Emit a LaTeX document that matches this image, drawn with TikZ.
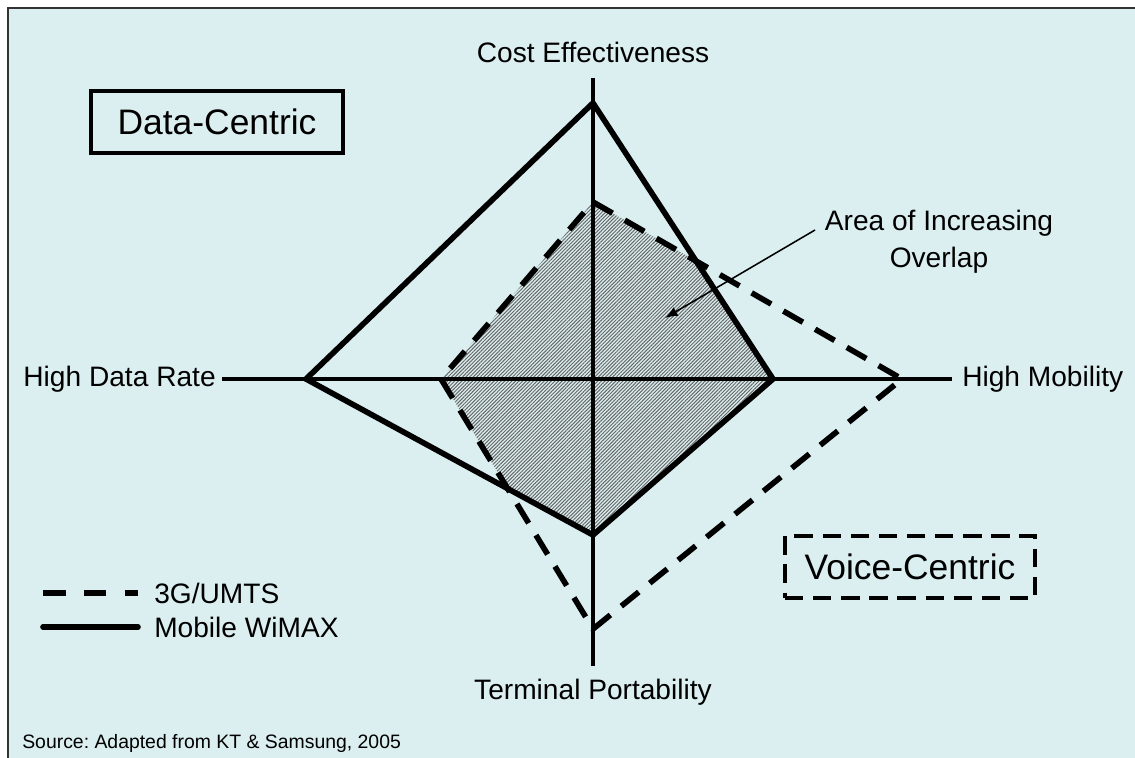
\documentclass[tikz,border=0pt]{standalone}
\usepackage{fontspec}
\setmainfont{Liberation Sans}
\frenchspacing
\usetikzlibrary{patterns.meta, arrows.meta}
\definecolor{panelbg}{RGB}{219,238,240}
\tikzset{>={Latex[length = 9pt, width = 7pt]}}
\tikzset{
  axislabel/.style = {font = \fontsize{20}{24}\selectfont, inner sep = 0pt},
  centric/.style = {font = \fontsize{25.2}{30}\selectfont, inner sep = 0pt, minimum height = 1.55cm},
  axisline/.style = {line width = 2.4pt},
  wimax/.style = {line width = 4pt},
  umts/.style = {line width = 4pt, dash pattern = on 16pt off 10pt},
}

\begin{document}
\begin{tikzpicture}[x = 0.025cm, y = -0.025cm]

\useasboundingbox (0, 0) rectangle (1135, 757);
\fill[panelbg] (8, 8) rectangle (1136, 758);
\draw[line width = 1.4pt, black!80] (8, 758) -- (8, 8) -- (1136, 8);

\coordinate (o) at (593, 379);
\coordinate (axtop) at (593, 78);
\coordinate (axbot) at (593, 666);
\coordinate (axleft) at (222, 379);
\coordinate (axright) at (952, 379);

\coordinate (wt) at (593, 103);
\coordinate (wr) at (773, 379);
\coordinate (wb) at (593, 535);
\coordinate (wl) at (306, 379);

\coordinate (gt) at (593, 202);
\coordinate (gr) at (902, 379);
\coordinate (gb) at (593, 629);
\coordinate (gl) at (441, 379);

\fill[white!95!black, pattern = {Lines[angle = 45, distance = 1.8pt, line width = 0.7pt]}, pattern color = black!60]
  (gt) -- (intersection of gt--gr and wt--wr) -- (wr) -- (wb)
  -- (intersection of gl--gb and wl--wb) -- (gl) -- cycle;

\draw[axisline] (axtop) -- (axbot);
\draw[axisline] (axleft) -- (axright);

\draw[wimax] (wt) -- (wr) -- (wb) -- (wl) -- cycle;
\draw[umts] (gt) -- (gr) -- (gb) -- (gl) -- cycle;

\node[axislabel] (cost) at (593, 52) {Cost Effectiveness};
\node[axislabel] (port) at (593, 692) {Terminal Portability};
\node[axislabel, anchor = east] (rate) at (216, 379) {High Data Rate};
\node[axislabel, anchor = west] (mob) at (962, 379) {High Mobility};

\node[centric, draw = black, line width = 2.4pt, minimum width = 6.3cm] (data) at (217, 122) {Data-Centric};
\node[centric, draw = black, line width = 2.8pt, dash pattern = on 13pt off 7pt, minimum width = 6.25cm] (voice) at (910, 567) {Voice-Centric};

\node[axislabel, align = center] (overlap) at (939, 242) {Area of Increasing\\[2pt]Overlap};
\coordinate (tail) at (815, 230);
\coordinate (tip) at (665, 318);
\draw[->, line width = 1.1pt] (tail) -- (tip);

\coordinate (leg1a) at (43, 593);
\coordinate (leg1b) at (138, 593);
\coordinate (leg2a) at (43, 627);
\coordinate (leg2b) at (138, 627);
\draw[umts, dash pattern = on 16pt off 13pt] (leg1a) -- (leg1b);
\draw[wimax, line cap = round] (leg2a) -- (leg2b);
\node[axislabel, anchor = west] (umtslbl) at (154, 593) {3G/UMTS};
\node[axislabel, anchor = west] (wimaxlbl) at (154, 627) {Mobile WiMAX};

\node[font = \fontsize{13.8}{16}\selectfont, inner sep = 0pt, anchor = west] (src) at (22, 743) {Source: Adapted from KT \& Samsung, 2005};

\end{tikzpicture}
\end{document}
